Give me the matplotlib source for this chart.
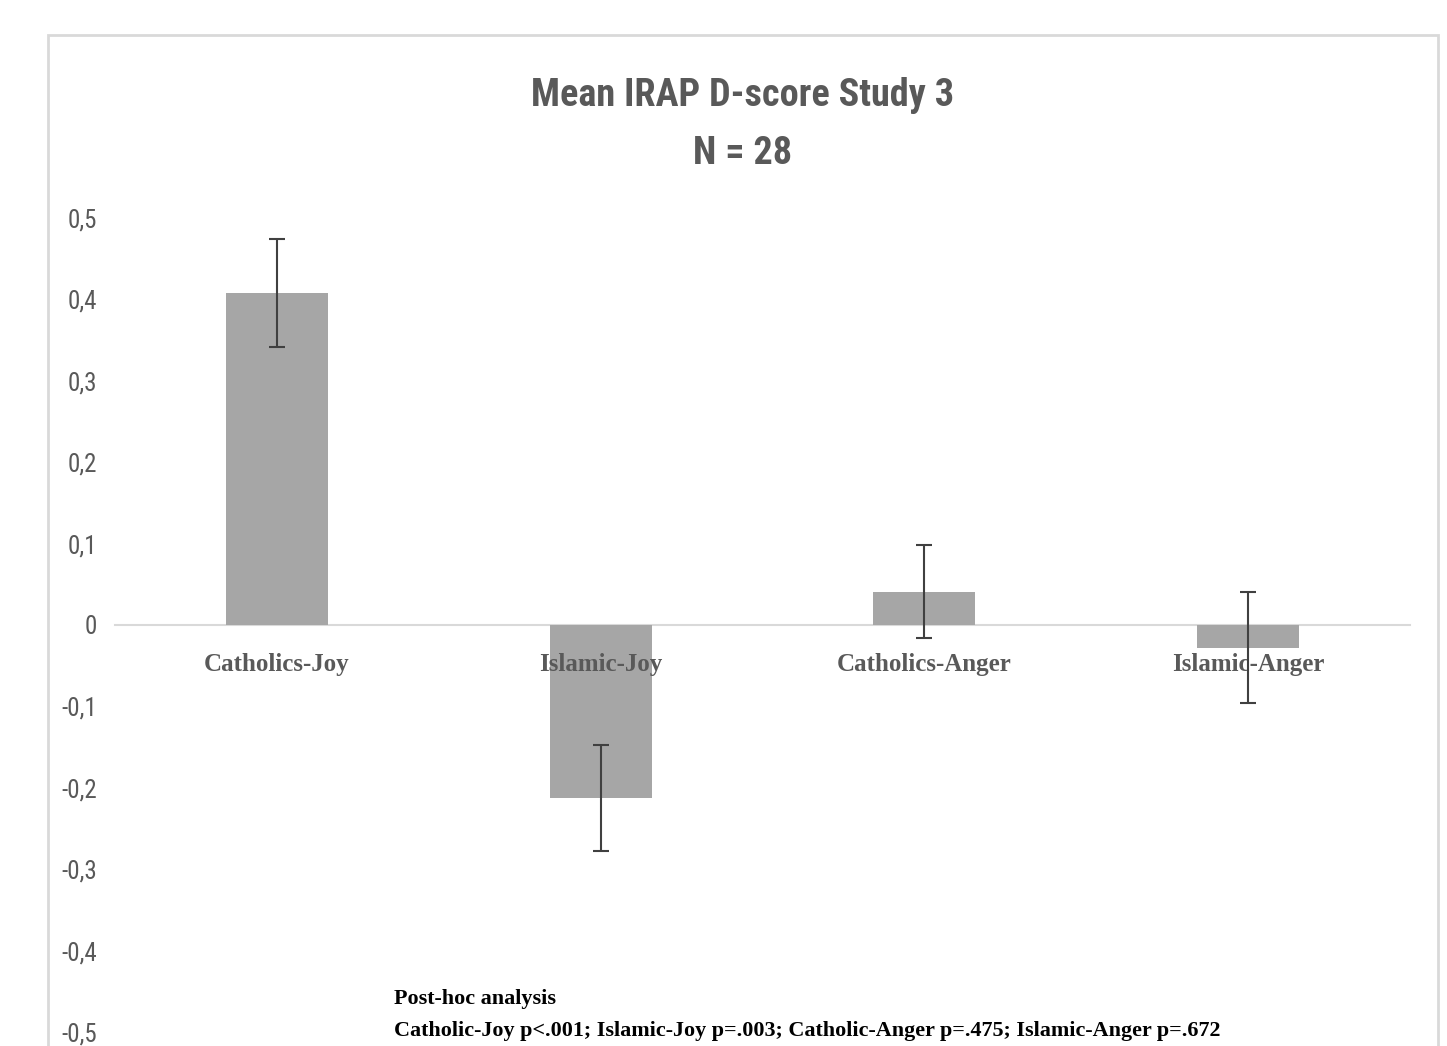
import numpy as np
import matplotlib.pyplot as plt
from matplotlib.patches import Rectangle
from matplotlib import font_manager

categories = ['Catholics-Joy', 'Islamic-Joy', 'Catholics-Anger', 'Islamic-Anger']
means = [0.408, -0.213, 0.041, -0.028]
errors = [0.066, 0.065, 0.057, 0.068]
yticks = [0.5, 0.4, 0.3, 0.2, 0.1, 0.0, -0.1, -0.2, -0.3, -0.4, -0.5]
ytick_labels = ['0,5', '0,4', '0,3', '0,2', '0,1', '0', '-0,1', '-0,2', '-0,3', '-0,4', '-0,5']
title = 'Mean IRAP D-score Study 3\nN = 28'
note_head = 'Post-hoc analysis'
note_body = 'Catholic-Joy p<.001; Islamic-Joy p=.003; Catholic-Anger p=.475; Islamic-Anger p=.672'

# pick the narrowest sans that is around (Calibri look-alike)
installed = {f.name for f in font_manager.fontManager.ttflist}
narrow = 'Roboto'
for cand in ['Roboto Condensed', 'Open Sans Condensed', 'Liberation Sans Narrow', 'Roboto']:
    if cand in installed:
        narrow = cand
        break
serif = 'Liberation Serif'

fig = plt.figure(figsize=(14.47, 10.46), dpi=100)
fig.patch.set_facecolor('white')

# light frame round the chart (runs off the bottom edge)
fig.patches.append(Rectangle((0.0332, -0.02), 0.9606, 0.9865, transform=fig.transFigure,
                             fill=False, edgecolor='#d9d9d9', linewidth=2))

ax = fig.add_axes([0.0795, 0.0134, 0.895, 0.7782])
x = np.arange(len(categories))
ax.bar(x, means, width=0.315, color='#a6a6a6', zorder=2)
ax.errorbar(x, means, yerr=errors, fmt='none', ecolor='#404040', elinewidth=1.5,
            capsize=6, capthick=1.5, zorder=3)
ax.set_axisbelow(False)  # category labels sit on top of the bars, like Excel

ax.set_xlim(-0.5, 3.5)
ax.set_ylim(-0.5, 0.5)
for s in ['top', 'right', 'left']:
    ax.spines[s].set_visible(False)
ax.spines['bottom'].set_position(('data', 0))
ax.spines['bottom'].set_color('#d9d9d9')
ax.spines['bottom'].set_linewidth(1.5)
ax.spines['bottom'].set_zorder(1)

ax.set_xticks(x)
ax.set_xticklabels(categories, fontfamily=serif, fontweight='bold', fontsize=18, color='#595959')
ax.tick_params(axis='x', length=0, pad=20)
ax.set_yticks(yticks)
ax.set_yticklabels(ytick_labels, fontfamily=narrow, fontsize=18, color='#595959')
ax.tick_params(axis='y', length=0, pad=13)

fig.text(0.513, 0.881, title, ha='center', va='center', fontfamily=narrow, fontweight='bold',
         fontsize=27.5, color='#595959', linespacing=1.75)

fig.text(0.2723, 0.045, note_head, ha='left', va='center', fontfamily=serif, fontweight='bold',
         fontsize=15.9, color='black')
fig.text(0.2723, 0.014, note_body, ha='left', va='center', fontfamily=serif, fontweight='bold',
         fontsize=15.9, color='black')

fig.savefig('out.png', dpi=100)
